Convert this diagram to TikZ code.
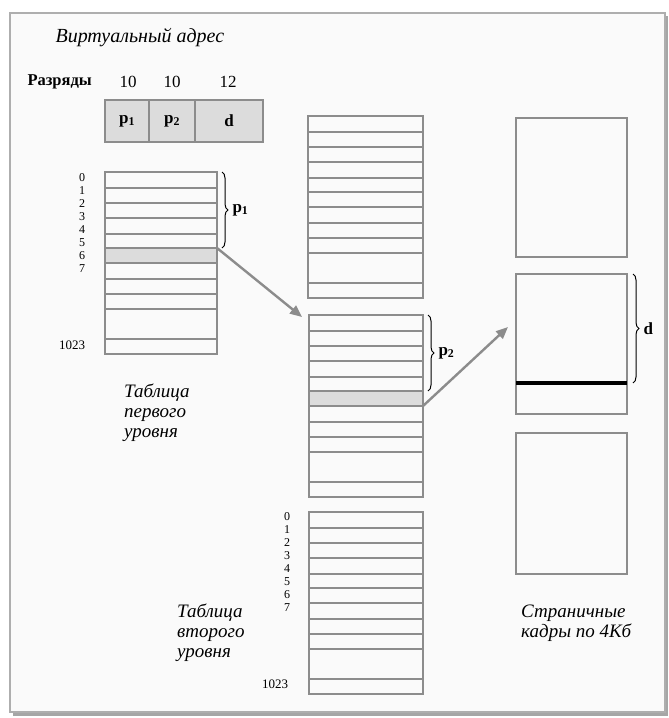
\documentclass[tikz,border=0pt]{standalone}
\usepackage{fontspec}
\setmainfont{Liberation Serif}
\usetikzlibrary{arrows.meta, positioning, decorations.pathreplacing}
\definecolor{cellgray}{HTML}{DCDCDC}
\definecolor{linegray}{HTML}{8C8C8C}
\definecolor{pagebg}{HTML}{FAFAFA}

\begin{document}
\begin{tikzpicture}[x=1pt, y=-1pt,
    every node/.style={font=\fontsize{17}{19}\selectfont},
    box/.style={draw=linegray, line width=2pt, inner sep=0pt, outer sep=0pt, anchor=north west},
    cell/.style={box, fill=cellgray},
    row/.style={draw=linegray, line width=2pt},
    idx/.style={font=\fontsize{12}{13}\selectfont, inner sep=0pt},
    captxt/.style={font=\itshape\fontsize{19}{20}\selectfont, align=left, anchor=north west, inner sep=0pt},
    brc/.style={decorate, decoration={brace, amplitude=6pt}, line width=1pt},
    arr/.style={draw=linegray, line width=2.4pt, -{Triangle[length=12pt, width=10pt]}}
]
\useasboundingbox (0,0) rectangle (669,718);
% Frame with shadow
\fill[gray!70] (13,16) rectangle (668,716);
\draw[linegray!70, line width=1.4pt, fill=pagebg] (10,13) rectangle (665,712);

% Virtual address
\node[anchor=west, font=\itshape\fontsize{20}{20}\selectfont] (va) at (52,38) {Виртуальный адрес};
\node[anchor=west, font=\bfseries\fontsize{16.5}{18}\selectfont] (bits) at (24,82) {Разряды};
\node (b1) at (128,82) {10};
\node (b2) at (172,82) {10};
\node (b3) at (228,82) {12};
\node[cell, minimum width=44pt, minimum height=42pt] (a1) at (105,100) {\textbf{p}\textsubscript{\textbf{1}}};
\node[cell, minimum width=46pt, minimum height=42pt] (a2) at (149,100) {\textbf{p}\textsubscript{\textbf{2}}};
\node[cell, minimum width=68pt, minimum height=42pt] (a3) at (195,100) {\textbf{d}};

% First level table
\node[box, minimum width=112pt, minimum height=182pt] (t1) at (105,172) {};
\node[cell, minimum width=112pt, minimum height=15pt] (g1) at (105,248) {};
% Second level tables
\node[box, minimum width=115pt, minimum height=182pt] (m1) at (308,116) {};
\node[box, minimum width=114pt, minimum height=182pt] (m2) at (309,315) {};
\node[cell, minimum width=114pt, minimum height=15pt] (g2) at (309,391) {};
\node[box, minimum width=114pt, minimum height=182pt] (m3) at (309,512) {};
% Row lines
\foreach \t in {t1,m1,m2,m3}
  \foreach \dy in {16,31,46,62,76,91,107,122,137,167}
    \draw[row] ([yshift=-\dy pt]\t.north west) -- ([yshift=-\dy pt]\t.north east);

% Entry numbers
\foreach \i in {0,...,7}{
  \node[idx] (ia\i) at (82,{178+13*\i}) {\i};
  \node[idx] (ic\i) at (287,{517+13*\i}) {\i};
}
\node[idx, font=\fontsize{13}{13}\selectfont] (ia1023) at (72,345) {1023};
\node[idx, font=\fontsize{13}{13}\selectfont] (ic1023) at (275,684) {1023};

% Page frames
\node[box, minimum width=111pt, minimum height=139pt] (f1) at (516,118) {};
\node[box, minimum width=111pt, minimum height=140pt] (f2) at (516,274) {};
\node[box, minimum width=111pt, minimum height=141pt] (f3) at (516,433) {};
\draw[line width=4pt] ([yshift=-109pt]f2.north west) -- ([yshift=-109pt]f2.north east);

% Braces
\draw[brc] ([xshift=5pt]t1.north east) -- ([xshift=5pt]g1.north east)
  node[midway, right=10pt, inner sep=0pt] (p1) {\textbf{p}\textsubscript{\textbf{1}}};
\draw[brc] ([xshift=5pt]m2.north east) -- ([xshift=5pt]g2.north east)
  node[midway, right=10pt, inner sep=0pt] (p2) {\textbf{p}\textsubscript{\textbf{2}}};
\draw[brc] ([xshift=6pt]f2.north east) -- ([xshift=6pt, yshift=-109pt]f2.north east)
  node[midway, right=10pt, inner sep=0pt] (dd) {\textbf{d}};

% Arrows
\coordinate (e1) at (302,317);
\coordinate (e2) at (508,327);
\draw[arr] (g1.north east) -- (e1);
\draw[arr] (g2.south east) -- (e2);

% Captions
\node[captxt] (c1) at (124,384) {Таблица\\первого\\уровня};
\node[captxt] (c2) at (177,604) {Таблица\\второго\\уровня};
\node[captxt] (c3) at (521,605) {Страничные\\кадры по 4Кб};
\end{tikzpicture}
\end{document}
